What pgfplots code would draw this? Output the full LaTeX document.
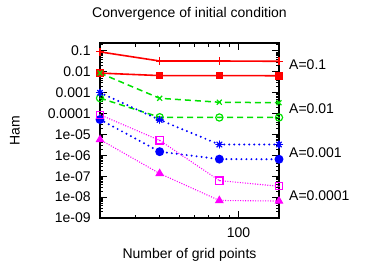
\documentclass[border=0pt]{standalone}
\usepackage{fontspec}
\setmainfont{Liberation Sans}
\usepackage{pgfplots}
\pgfplotsset{compat=1.18}
\definecolor{gpred}{RGB}{255,0,0}
\definecolor{gpgreen}{RGB}{0,225,0}
\definecolor{gpblue}{RGB}{0,0,255}
\definecolor{gpmag}{RGB}{255,0,255}
\pgfdeclareplotmark{gpstar}{\pgfuseplotmark{+}\pgfuseplotmark{x}}
\pgfdeclareplotmark{sqdot}{\pgfuseplotmark{square}\pgfpathcircle{\pgfpointorigin}{0.8pt}\pgfusepathqfill}
\pgfdeclareplotmark{circdot}{\pgfuseplotmark{o}\pgfpathcircle{\pgfpointorigin}{0.8pt}\pgfusepathqfill}
\begin{document}
\fontsize{14}{16}\selectfont
\begin{tikzpicture}
\useasboundingbox (0pt,0pt) rectangle (374pt,262pt);
\begin{axis}[
  at={(100pt,44pt)}, anchor=south west,
  scale only axis, width=179pt, height=175pt,
  xmode=log, ymode=log,
  xmin=20, xmax=160, ymin=1e-9, ymax=0.24,
  xtick={100}, xticklabels={100},
  minor xtick={30,40,50,60,70,80,90},
  ytick={1e-9,1e-8,1e-7,1e-6,1e-5,1e-4,1e-3,1e-2,1e-1},
  yticklabels={1e-09,1e-08,1e-07,1e-06,1e-05,0.0001,0.001,0.01,0.1},
  minor ytick={2e-9,3e-9,4e-9,5e-9,6e-9,7e-9,8e-9,9e-9,
               2e-8,3e-8,4e-8,5e-8,6e-8,7e-8,8e-8,9e-8,
               2e-7,3e-7,4e-7,5e-7,6e-7,7e-7,8e-7,9e-7,
               2e-6,3e-6,4e-6,5e-6,6e-6,7e-6,8e-6,9e-6,
               2e-5,3e-5,4e-5,5e-5,6e-5,7e-5,8e-5,9e-5,
               2e-4,3e-4,4e-4,5e-4,6e-4,7e-4,8e-4,9e-4,
               2e-3,3e-3,4e-3,5e-3,6e-3,7e-3,8e-3,9e-3,
               2e-2,3e-2,4e-2,5e-2,6e-2,7e-2,8e-2,9e-2,0.2},
  tick align=inside,
  major tick length=7pt, minor tick length=3.5pt,
  every tick/.style={black},
  every major tick/.style={line width=0.9pt},
  every minor tick/.style={line width=0.6pt},
  axis line style={line width=1.2pt},
  clip=false,
  title={Convergence of initial condition},
  title style={at={(axis description cs:0.5,1)}, anchor=base, yshift=20pt},
  xlabel={Number of grid points},
  xlabel style={at={(axis description cs:0.5,0)}, anchor=base, yshift=-40pt},
  ylabel={Ham},
  ylabel style={at={(axis description cs:-0.475,0.5)}, anchor=center},
  xticklabel style={anchor=base, yshift=-19pt},
  yticklabel style={anchor=east, xshift=-4.5pt},
]
\addplot[gpred, line width=1.6pt, mark=+, mark options={solid, line width=1.1pt}, mark size=4pt]
  coordinates {(20,0.09)(40,0.033)(80,0.033)(160,0.032)};
\addplot[gpred, line width=1.6pt, mark=square*, mark options={solid}, mark size=3pt]
  coordinates {(20,0.0087)(40,0.0066)(80,0.0066)(160,0.0065)};
\addplot[gpgreen, line width=1.5pt, dash pattern=on 6pt off 4pt, mark=x, mark options={solid, line width=1.2pt}, mark size=3.5pt]
  coordinates {(20,0.0087)(40,0.00054)(80,0.00035)(160,0.00033)};
\addplot[gpgreen, line width=1.5pt, dash pattern=on 6pt off 4pt, mark=circdot, mark options={solid, line width=1.2pt, fill=gpgreen}, mark size=3.6pt]
  coordinates {(20,0.00055)(40,6.7e-5)(80,6.5e-5)(160,6.5e-5)};
\addplot[gpblue, line width=2.2pt, line cap=round, dash pattern=on 0pt off 5pt, mark=gpstar, mark options={solid, line width=1.3pt}, mark size=3.5pt]
  coordinates {(20,0.001)(40,5e-5)(80,3.3e-6)(160,3.3e-6)};
\addplot[gpblue, line width=2.2pt, line cap=round, dash pattern=on 0pt off 5pt, mark=*, mark options={solid}, mark size=3.3pt]
  coordinates {(20,5.2e-5)(40,1.5e-6)(80,6.6e-7)(160,6.5e-7)};
\addplot[gpmag, line width=1.1pt, dash pattern=on 1pt off 1.5pt, mark=sqdot, mark options={solid, line width=1.2pt, fill=gpmag}, mark size=3.6pt]
  coordinates {(20,8.8e-5)(40,5.2e-6)(80,6.2e-8)(160,3.3e-8)};
\addplot[gpmag, line width=1.1pt, dash pattern=on 1pt off 1.5pt, mark=triangle*, mark options={solid}, mark size=4pt]
  coordinates {(20,5.7e-6)(40,1.35e-7)(80,6.9e-9)(160,6.5e-9)};
\node[anchor=west, inner sep=0pt, xshift=10pt] at (rel axis cs:1,0.874) {A=0.1};
\node[anchor=west, inner sep=0pt, xshift=10pt] at (rel axis cs:1,0.623) {A=0.01};
\node[anchor=west, inner sep=0pt, xshift=10pt] at (rel axis cs:1,0.371) {A=0.001};
\node[anchor=west, inner sep=0pt, xshift=10pt] at (rel axis cs:1,0.126) {A=0.0001};
\end{axis}
\end{tikzpicture}
\end{document}
